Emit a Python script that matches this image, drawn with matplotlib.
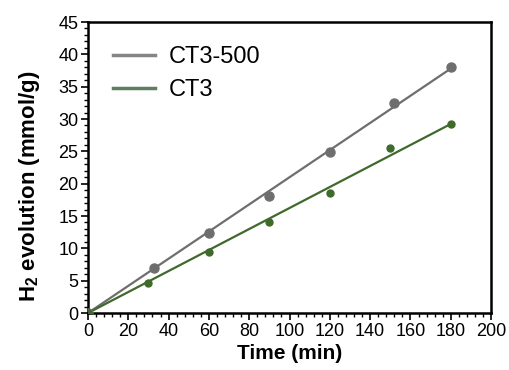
import matplotlib
matplotlib.use("Agg")
import matplotlib.pyplot as plt
from matplotlib.lines import Line2D
from matplotlib.ticker import MultipleLocator
import numpy as np

plt.rcParams['font.family'] = ['Liberation Sans', 'DejaVu Sans']
plt.rcParams['mathtext.default'] = 'regular'

# data
t_500 = [0, 33, 60, 90, 120, 152, 180]
h2_500 = [0, 6.9, 12.3, 18.1, 24.9, 32.4, 38.1]
t_ct3 = [0, 30, 60, 90, 120, 150, 180]
h2_ct3 = [0, 4.6, 9.4, 14.1, 18.6, 25.5, 29.3]
labels = ['CT3-500', 'CT3']

gray = '#6e6e6e'
green = '#3f6a2b'

fig = plt.figure(figsize=(5.1, 3.7), dpi=100)
ax = fig.add_axes([0.1725, 0.154, 0.7905, 0.7865])

# linear trend lines through the origin
for t, h, c in [(t_500, h2_500, gray), (t_ct3, h2_ct3, green)]:
    t = np.array(t, float)
    h = np.array(h, float)
    k = np.sum(t * h) / np.sum(t * t)
    ax.plot([0, t[-1]], [0, k * t[-1]], color=c, lw=1.6, zorder=2)

ax.plot(t_500, h2_500, 'o', color=gray, ms=6.5, zorder=3)
ax.plot(t_ct3, h2_ct3, 'o', color=green, ms=5, zorder=3)

handles = [Line2D([], [], color='#858585', lw=2.5),
           Line2D([], [], color='#5f7d5f', lw=2.5)]
ax.legend(handles, labels, loc='upper left', fontsize=17, frameon=False,
          handlelength=1.8, handletextpad=0.6, labelspacing=0.47,
          borderaxespad=0.3, borderpad=0.4, bbox_to_anchor=(0.02, 0.975))

ax.set_xlim(0, 200)
ax.set_ylim(0, 45)
ax.xaxis.set_major_locator(MultipleLocator(20))
ax.xaxis.set_minor_locator(MultipleLocator(4))
ax.yaxis.set_major_locator(MultipleLocator(5))
ax.yaxis.set_minor_locator(MultipleLocator(1))
ax.tick_params(which='major', direction='out', length=5, width=1.2,
               labelsize=13, colors='black', pad=2)
ax.tick_params(which='minor', direction='out', length=3, width=1)
for s in ax.spines.values():
    s.set_linewidth(1.8)

ax.set_xlabel('Time (min)', fontsize=15, fontweight='bold', labelpad=3)
ax.set_ylabel('H$_2$ evolution (mmol/g)', fontsize=16, fontweight='bold')
ax.yaxis.set_label_coords(-0.115, 0.435)

fig.savefig('out.png', dpi=100)
